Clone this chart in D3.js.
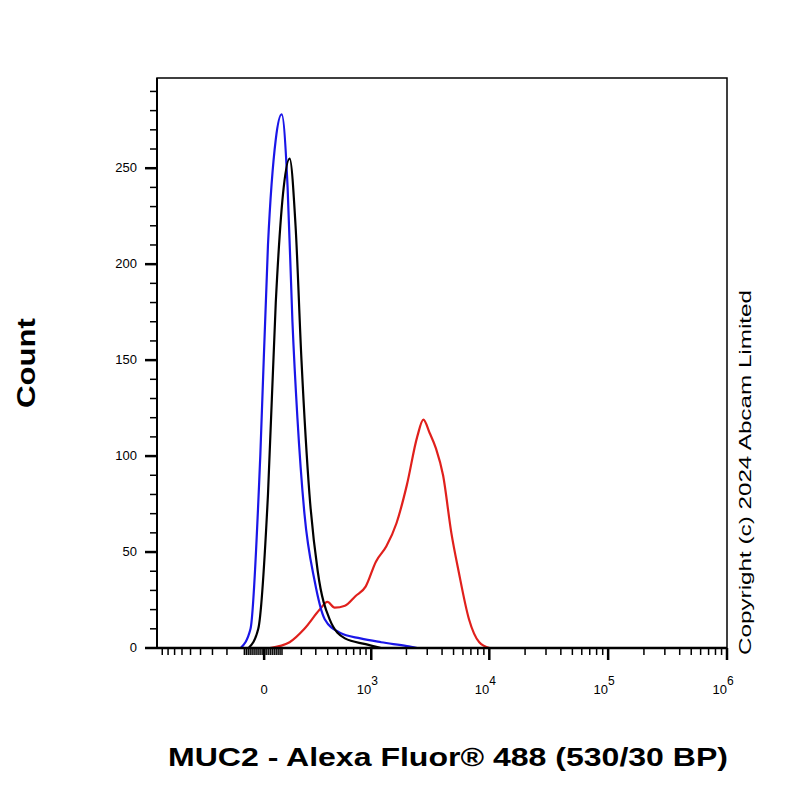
<!DOCTYPE html>
<html><head><meta charset="utf-8">
<script src="https://cdn.jsdelivr.net/npm/d3@7"></script>
<style>body{margin:0;background:#fff;font-family:"Liberation Sans",Arial,sans-serif;}</style>
</head><body><div id="chart-area"></div>
<script>
// histogram points: fluorescence value, count
var blueX = [-120,-68,-19,19,58,88,120,147,176,220,291,373,523,804,1217,2018,2467];
var blueY = [0,10,100,210,265,278,240,170,120,70,35,15,8,5,3,1,0];
var blackX = [-78,-29,19,58,99,131,165,201,254,315,417,583,893,1217];
var blackY = [0,10,80,180,240,255,220,150,80,40,15,5,2,0];
var redX = [29,131,220,331,397,467,583,725,893,1097,1349,1646,2018,2467,2784,3144,3552,4080,4790,5515,6744,8232,10056];
var redY = [0,3,10,20,24,21,22,27,32,45,53,65,85,110,119,112,104,90,60,40,15,3,0];
var yTicks = [0,50,100,150,200,250];
var xMajor = [0,1e3,1e4,1e5,1e6];

var margin = { left: 157, top: 78 };
var width = 570, height = 570;
var c = 255;
function T(v){ return Math.asinh(v / c); }

var svg = d3.select("#chart-area").append("svg")
    .attr("width", 800).attr("height", 800);
var g = svg.append("g")
    .attr("transform", "translate(" + margin.left + "," + margin.top + ")");

var xt = d3.scaleLinear().domain([T(-1000), T(1e6)]).range([0, width]);
var x = function(v){ return xt(T(v)); };
var y = d3.scaleLinear().domain([0, 297]).range([height, 0]);

// y ticks
var yMinor = d3.range(0, 291, 10);
g.selectAll(".ym").data(yMinor).enter().append("line")
    .attr("x1", function(d){ return yTicks.indexOf(d) >= 0 ? -12 : -7; })
    .attr("x2", 0)
    .attr("y1", y).attr("y2", y)
    .attr("stroke", "#000")
    .attr("stroke-width", function(d){ return yTicks.indexOf(d) >= 0 ? 2.5 : 1.5; });
g.selectAll(".yl").data(yTicks).enter().append("text")
    .attr("x", -20).attr("y", function(d){ return y(d) + 4; })
    .attr("text-anchor", "end").attr("font-size", "13px")
    .text(function(d){ return d; });

// x ticks
var xMinor = [];
d3.range(-900, 0, 100).forEach(function(d){ xMinor.push(d); });
d3.range(-90, 100, 10).forEach(function(d){ xMinor.push(d); });
[100, 1e3, 1e4, 1e5].forEach(function(p){
    d3.range(2, 10).forEach(function(m){ xMinor.push(m * p); });
});
g.selectAll(".xm").data(xMinor).enter().append("line")
    .attr("x1", x).attr("x2", x)
    .attr("y1", height).attr("y2", height + 7)
    .attr("stroke", "#000").attr("stroke-width", 1.5);
g.selectAll(".xM").data(xMajor).enter().append("line")
    .attr("x1", x).attr("x2", x)
    .attr("y1", height).attr("y2", height + 12)
    .attr("stroke", "#000").attr("stroke-width", 2.5);
var xl = g.selectAll(".xl").data(xMajor).enter().append("text")
    .attr("x", function(d){ return x(d) - (d === 0 ? 0 : 4); })
    .attr("y", height + 46)
    .attr("text-anchor", "middle").attr("font-size", "13px");
xl.append("tspan").text(function(d){ return d === 0 ? "0" : "10"; });
xl.append("tspan").attr("dy", -9).attr("font-size", "12px")
    .text(function(d){ return d === 0 ? "" : Math.round(Math.log10(d)); });

// curves
var line = d3.line()
    .x(function(d){ return x(d[0]); })
    .y(function(d){ return y(d[1]); })
    .curve(d3.curveMonotoneX);
[[redX, redY, "#e0201c"], [blueX, blueY, "#1a16e8"], [blackX, blackY, "#000"]].forEach(function(s){
    g.append("path")
        .datum(d3.zip(s[0], s[1]))
        .attr("d", line)
        .attr("fill", "none").attr("stroke", s[2]).attr("stroke-width", 2.2);
});

// frame
g.append("rect").attr("width", width).attr("height", height)
    .attr("fill", "none").attr("stroke", "#000").attr("stroke-width", 1.5);
g.append("line").attr("x1", 0).attr("x2", width).attr("y1", height).attr("y2", height)
    .attr("stroke", "#000").attr("stroke-width", 2.5);
g.append("line").attr("x1", 0).attr("x2", 0).attr("y1", 0).attr("y2", height)
    .attr("stroke", "#000").attr("stroke-width", 2);

// labels
svg.append("text")
    .attr("x", 168).attr("y", 766)
    .attr("textLength", 560).attr("lengthAdjust", "spacingAndGlyphs")
    .attr("font-size", "25px").attr("font-weight", "bold")
    .text("MUC2 - Alexa Fluor® 488 (530/30 BP)");
svg.append("text")
    .attr("transform", "translate(35,408) rotate(-90)")
    .attr("textLength", 90).attr("lengthAdjust", "spacingAndGlyphs")
    .attr("font-size", "26px").attr("font-weight", "bold")
    .text("Count");
svg.append("text")
    .attr("transform", "translate(751,655) rotate(-90)")
    .attr("textLength", 365).attr("lengthAdjust", "spacingAndGlyphs")
    .attr("font-size", "17px")
    .text("Copyright (c) 2024 Abcam Limited");
</script>
</body></html>
